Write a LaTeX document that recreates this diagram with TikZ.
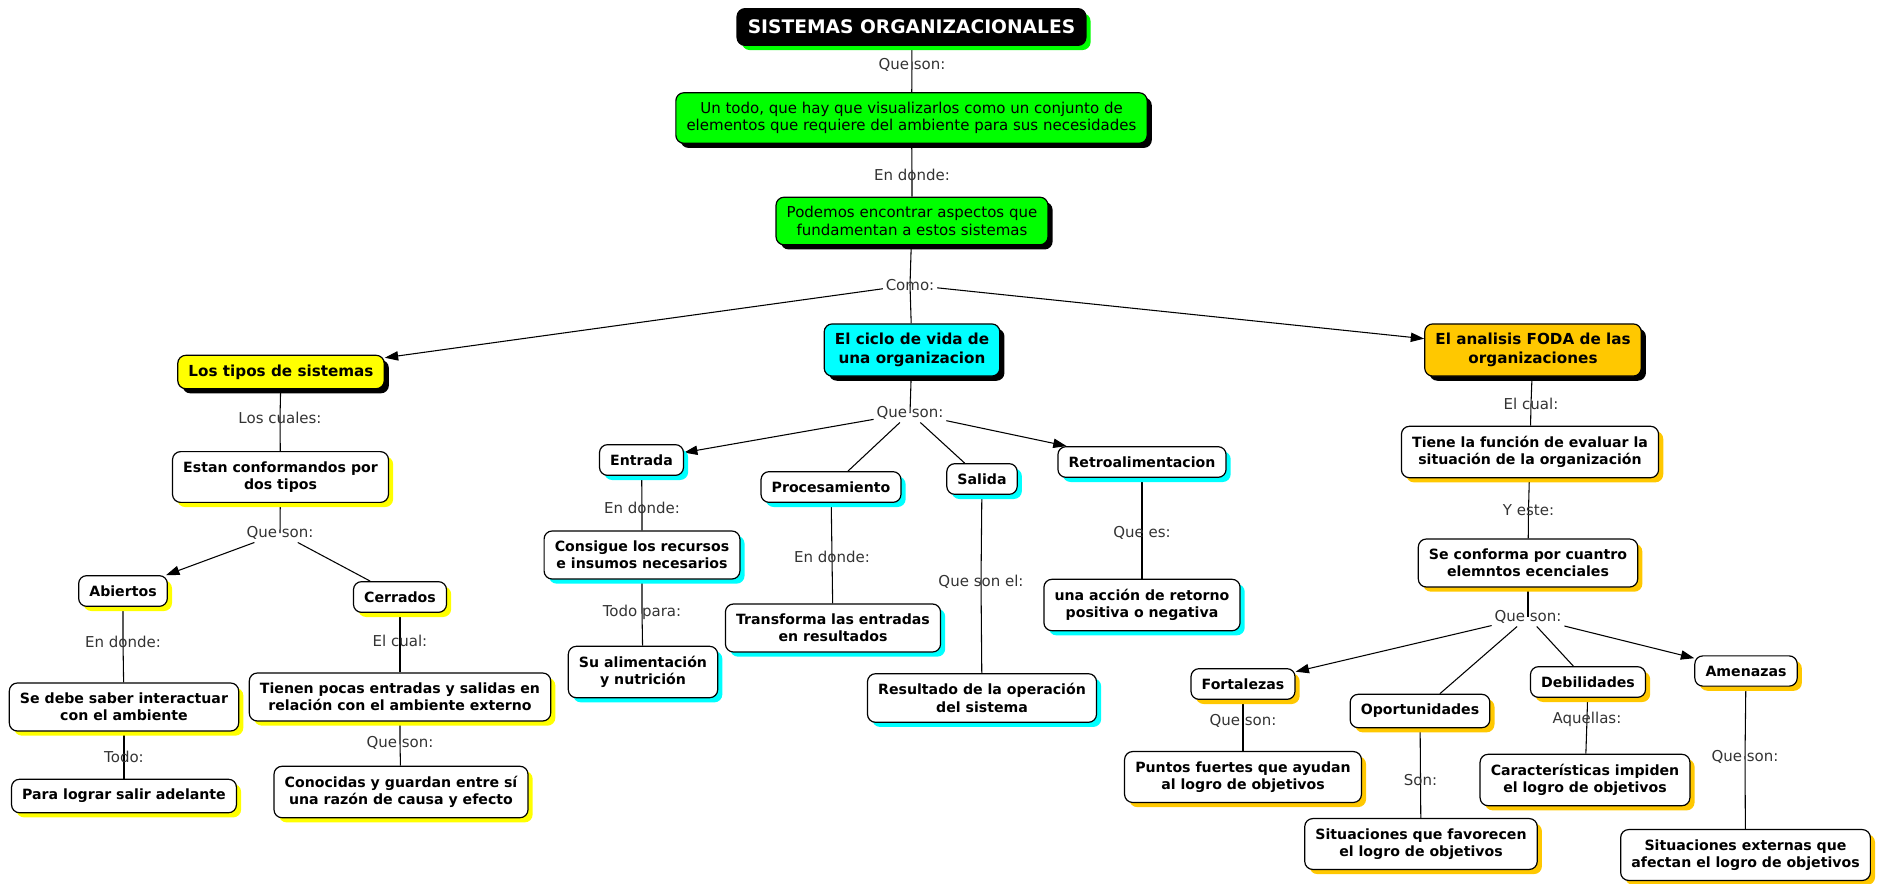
\documentclass[tikz,border=0pt]{standalone}
\usepackage{fontspec}
\setmainfont{DejaVu Sans}
\usepackage{tikz}
\usetikzlibrary{arrows.meta,shadows}
\definecolor{cmgreen}{RGB}{0,255,0}
\definecolor{cmyellow}{RGB}{255,255,0}
\definecolor{cmcyan}{RGB}{0,255,255}
\definecolor{cmgold}{RGB}{255,200,0}
\definecolor{linkgray}{RGB}{51,51,51}
\pgfdeclarelayer{back}
\pgfsetlayers{back,main}

\begin{document}
\begin{tikzpicture}[x=0.75pt,y=-0.75pt,
  cmshadow/.style={drop shadow={shadow xshift=3.5pt,shadow yshift=-3.5pt,fill=#1,opacity=1}},
  box/.style={draw=black, line width=0.9pt, rounded corners=6pt, align=center,
    inner xsep=8pt, inner ysep=7.4pt, font=\fontsize{10.6}{13}\selectfont\bfseries},
  concept/.style={box, fill=white, cmshadow=#1},
  topic/.style={box, fill=#1, cmshadow=black, inner ysep=7pt, font=\fontsize{11.4}{14}\selectfont\bfseries},
  greenbox/.style={box, fill=cmgreen, cmshadow=black, inner ysep=7pt, font=\fontsize{11.25}{13}\selectfont},
  titlebox/.style={box, fill=black, text=white, cmshadow=cmgreen, inner ysep=8.5pt,
    font=\fontsize{14}{16}\selectfont\bfseries},
  linkword/.style={text=linkgray, inner sep=2pt, font=\fontsize{11.25}{13}\selectfont},
  link/.style={line width=0.8pt},
  arrowlink/.style={link, -{Triangle[length=10pt,width=7pt]}}]
\useasboundingbox (0,0) rectangle (1881,883);

% tronco central
\node[titlebox] (sistemas) at (911.5,27) {SISTEMAS ORGANIZACIONALES};
\node[linkword] (lqueson) at (912,65) {Que son:};
\node[greenbox] (todo) at (911.5,118) {Un todo, que hay que visualizarlos como un conjunto de\\elementos que requiere del ambiente para sus necesidades};
\node[linkword] (lendonde) at (912,175) {En donde:};
\node[greenbox] (podemos) at (912,221) {Podemos encontrar aspectos que\\fundamentan a estos sistemas};
\node[linkword] (lcomo) at (910,285) {Como:};

\node[topic=cmyellow] (tipos) at (281,372) {Los tipos de sistemas};
\node[topic=cmcyan] (ciclo) at (912,350) {El ciclo de vida de\\una organizacion};
\node[topic=cmgold] (foda) at (1533,350) {El analisis FODA de las\\organizaciones};

% tipos de sistemas
\node[linkword] (lcuales) at (280,418) {Los cuales:};
\node[concept=cmyellow] (estan) at (280.5,477) {Estan conformandos por\\dos tipos};
\node[linkword] (lquesonA) at (280,533) {Que son:};
\node[concept=cmyellow] (abiertos) at (123,591) {Abiertos};
\node[concept=cmyellow] (cerrados) at (400,597) {Cerrados};
\node[linkword] (lendondeA) at (123,642) {En donde:};
\node[concept=cmyellow] (sedebe) at (124,707) {Se debe saber interactuar\\con el ambiente};
\node[linkword] (ltodo) at (124,757) {Todo:};
\node[concept=cmyellow] (lograr) at (124,796) {Para lograr salir adelante};
\node[linkword] (lelcualA) at (400,641) {El cual:};
\node[concept=cmyellow] (tienen) at (400,697) {Tienen pocas entradas y salidas en\\relación con el ambiente externo};
\node[linkword] (lquesonB) at (400,743) {Que son:};
\node[concept=cmyellow] (conocidas) at (401,792) {Conocidas y guardan entre sí\\una razón de causa y efecto};

% ciclo de vida
\node[linkword] (lquesonC) at (910,413) {Que son:};
\node[concept=cmcyan] (entrada) at (641.5,460) {Entrada};
\node[concept=cmcyan] (procesa) at (831,487) {Procesamiento};
\node[concept=cmcyan] (salida) at (982,479) {Salida};
\node[concept=cmcyan] (retro) at (1142,462) {Retroalimentacion};
\node[linkword] (lendondeB) at (642,508) {En donde:};
\node[concept=cmcyan] (consigue) at (642,555) {Consigue los recursos\\e insumos necesarios};
\node[linkword] (ltodopara) at (642,612) {Todo para:};
\node[concept=cmcyan] (alimento) at (643,672) {Su alimentación\\y nutrición};
\node[linkword] (lendondeC) at (832,557) {En donde:};
\node[concept=cmcyan] (transforma) at (833,628) {Transforma las entradas\\en resultados};
\node[linkword] (lquesonel) at (981,582) {Que son el:};
\node[concept=cmcyan] (resultado) at (982,698) {Resultado de la operación\\del sistema};
\node[linkword] (lquees) at (1142,533) {Que es:};
\node[concept=cmcyan] (retorno) at (1142,605) {una acción de retorno\\positiva o negativa};

% analisis FODA
\node[linkword] (lelcualB) at (1531,404) {El cual:};
\node[concept=cmgold] (evaluar) at (1530,452) {Tiene la función de evaluar la\\situación de la organización};
\node[linkword] (lyeste) at (1528.5,510) {Y este:};
\node[concept=cmgold] (conforma) at (1528,563) {Se conforma por cuantro\\elemntos ecenciales};
\node[linkword] (lquesonD) at (1528,617) {Que son:};
\node[concept=cmgold] (fortalezas) at (1243,684) {Fortalezas};
\node[concept=cmgold] (oportunidades) at (1420,711) {Oportunidades};
\node[concept=cmgold] (debilidades) at (1588,682) {Debilidades};
\node[concept=cmgold] (amenazas) at (1746,671) {Amenazas};
\node[linkword] (lquesonE) at (1243,721) {Que son:};
\node[concept=cmgold] (puntos) at (1243,777) {Puntos fuertes que ayudan\\al logro de objetivos};
\node[linkword] (lson) at (1420.5,780) {Son:};
\node[concept=cmgold] (favorecen) at (1421,844) {Situaciones que favorecen\\el logro de objetivos};
\node[linkword] (laquellas) at (1587,719) {Aquellas:};
\node[concept=cmgold] (impiden) at (1585,780) {Características impiden\\el logro de objetivos};
\node[linkword] (lquesonF) at (1745,757) {Que son:};
\node[concept=cmgold] (externas) at (1745.5,855) {Situaciones externas que\\afectan el logro de objetivos};

\begin{pgfonlayer}{back}
\draw[link] (sistemas) -- (lqueson.center) -- (todo);
\draw[link] (todo) -- (lendonde.center) -- (podemos);
\draw[link] (podemos) -- (lcomo.center) -- (ciclo);
\draw[arrowlink] (lcomo) -- (tipos);
\draw[arrowlink] (lcomo) -- (foda);

\draw[link] (tipos) -- (lcuales.center) -- (estan);
\draw[link] (estan) -- (lquesonA.center);
\draw[arrowlink] (lquesonA) -- (abiertos);
\draw[link] (lquesonA) -- (cerrados);
\draw[link] (abiertos) -- (lendondeA.center) -- (sedebe);
\draw[link] (sedebe) -- (ltodo.center) -- (lograr);
\draw[link] (cerrados) -- (lelcualA.center) -- (tienen);
\draw[link] (tienen) -- (lquesonB.center) -- (conocidas);

\draw[link] (ciclo) -- (lquesonC.center);
\draw[arrowlink] (lquesonC) -- (entrada);
\draw[link] (lquesonC) -- (procesa);
\draw[link] (lquesonC) -- (salida);
\draw[arrowlink] (lquesonC) -- (retro);
\draw[link] (entrada) -- (lendondeB.center) -- (consigue);
\draw[link] (consigue) -- (ltodopara.center) -- (alimento);
\draw[link] (procesa) -- (lendondeC.center) -- (transforma);
\draw[link] (salida) -- (lquesonel.center) -- (resultado);
\draw[link] (retro) -- (lquees.center) -- (retorno);

\draw[link] (foda) -- (lelcualB.center) -- (evaluar);
\draw[link] (evaluar) -- (lyeste.center) -- (conforma);
\draw[link] (conforma) -- (lquesonD.center);
\draw[arrowlink] (lquesonD) -- (fortalezas);
\draw[link] (lquesonD) -- (oportunidades);
\draw[link] (lquesonD) -- (debilidades);
\draw[arrowlink] (lquesonD) -- (amenazas);
\draw[link] (fortalezas) -- (lquesonE.center) -- (puntos);
\draw[link] (oportunidades) -- (lson.center) -- (favorecen);
\draw[link] (debilidades) -- (laquellas.center) -- (impiden);
\draw[link] (amenazas) -- (lquesonF.center) -- (externas);
\end{pgfonlayer}
\end{tikzpicture}
\end{document}
